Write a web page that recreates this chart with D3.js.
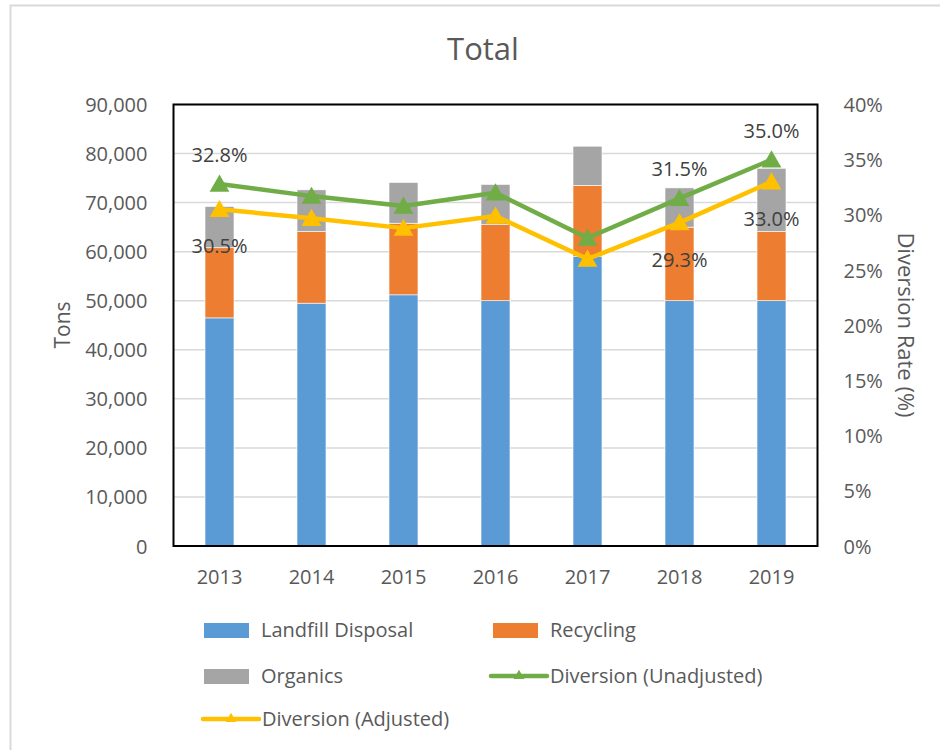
<!DOCTYPE html>
<html>
<head>
<meta charset="utf-8">
<script src="https://cdn.jsdelivr.net/npm/d3@7"></script>
<style>
  body { margin: 0; background: #fff; }
  text { font-family: 'Open Sans', sans-serif; }
</style>
</head>
<body>
<div id="chart"></div>
<script>
const years = ['2013', '2014', '2015', '2016', '2017', '2018', '2019']
const landfill = [46500, 49500, 51200, 50000, 59000, 50000, 50000]
const recycling = [14300, 14600, 14600, 15500, 14500, 15000, 14100]
const organics = [8400, 8500, 8300, 8200, 8000, 8000, 12900]
const unadjusted = [32.8, 31.7, 30.8, 32.0, 27.9, 31.5, 35.0]
const adjusted = [30.5, 29.7, 28.8, 29.9, 26.0, 29.3, 33.0]
const leftTicks = [0, 10000, 20000, 30000, 40000, 50000, 60000, 70000, 80000, 90000]
const rightTicks = [0, 5, 10, 15, 20, 25, 30, 35, 40]
// which points carry a data label
const labelled = ['2013', '2018', '2019']

const width = 940
const height = 750
const plot = { left: 173.5, right: 817.5, top: 104.5, bottom: 546 }

const colors = {
  landfill: '#5b9bd5',
  recycling: '#ed7d31',
  organics: '#a5a5a5',
  unadjusted: '#70ad47',
  adjusted: '#ffc000'
}

const svg = d3
  .select('#chart')
  .append('svg')
  .attr('width', width)
  .attr('height', height)

// chart area border (only left/top visible in the crop)
svg
  .append('rect')
  .attr('x', 10.5)
  .attr('y', 5.5)
  .attr('width', width + 20)
  .attr('height', height + 20)
  .attr('fill', '#fff')
  .attr('stroke', '#d9d9d9')
  .attr('stroke-width', 2)

svg
  .append('text')
  .attr('x', 483)
  .attr('y', 60)
  .attr('text-anchor', 'middle')
  .attr('font-size', 31)
  .attr('fill', '#595959')
  .text('Total')

const x = d3
  .scaleBand()
  .domain(years)
  .range([plot.left, plot.right])
  .paddingInner(0.685)
  .paddingOuter(0.3425)

const y = d3.scaleLinear().domain([0, 90000]).range([plot.bottom, plot.top])
const y2 = d3.scaleLinear().domain([0, 40]).range([plot.bottom, plot.top])

// gridlines
svg
  .append('g')
  .selectAll('line')
  .data(leftTicks)
  .join('line')
  .attr('x1', plot.left)
  .attr('x2', plot.right)
  .attr('y1', (d) => y(d))
  .attr('y2', (d) => y(d))
  .attr('stroke', '#d9d9d9')
  .attr('stroke-width', 1.5)

// stacked bars
const rows = years.map((yr, i) => ({
  year: yr,
  landfill: landfill[i],
  recycling: recycling[i],
  organics: organics[i]
}))
const stack = d3.stack().keys(['landfill', 'recycling', 'organics'])(rows)

svg
  .append('g')
  .selectAll('g')
  .data(stack)
  .join('g')
  .attr('fill', (s) => colors[s.key])
  .selectAll('rect')
  .data((s) => s)
  .join('rect')
  .attr('x', (d) => x(d.data.year))
  .attr('width', x.bandwidth())
  .attr('y', (d) => y(d[1]))
  .attr('height', (d) => y(d[0]) - y(d[1]))
  .attr('stroke', '#fff')
  .attr('stroke-width', 0.6)

// plot frame
svg
  .append('rect')
  .attr('x', plot.left)
  .attr('y', plot.top)
  .attr('width', plot.right - plot.left)
  .attr('height', plot.bottom - plot.top)
  .attr('fill', 'none')
  .attr('stroke', '#000')
  .attr('stroke-width', 2)

// axes
const leftAxis = svg
  .append('g')
  .attr('transform', `translate(${plot.left - 23},0)`)
  .call(
    d3
      .axisLeft(y)
      .tickValues(leftTicks)
      .tickSize(0)
      .tickFormat(d3.format(','))
  )
const rightAxis = svg
  .append('g')
  .attr('transform', `translate(${plot.right + 23},0)`)
  .call(
    d3
      .axisRight(y2)
      .tickValues(rightTicks)
      .tickSize(0)
      .tickFormat((d) => d + '%')
  )
const bottomAxis = svg
  .append('g')
  .attr('transform', `translate(0,${plot.bottom + 18})`)
  .call(d3.axisBottom(x).tickSize(0))

;[leftAxis, rightAxis, bottomAxis].forEach((g) => {
  g.select('.domain').remove()
  g.selectAll('text')
    .attr('font-family', "'Open Sans', sans-serif")
    .attr('font-size', 20)
    .attr('fill', '#595959')
})
leftAxis.selectAll('text').attr('dy', '0.35em')
rightAxis.selectAll('text').attr('dy', '0.35em')
bottomAxis.selectAll('text').attr('dy', '0.85em')

svg
  .append('text')
  .attr('transform', `translate(70,325) rotate(-90)`)
  .attr('text-anchor', 'middle')
  .attr('font-size', 21)
  .attr('fill', '#595959')
  .text('Tons')

svg
  .append('text')
  .attr('transform', `translate(898,325) rotate(90)`)
  .attr('text-anchor', 'middle')
  .attr('font-size', 22)
  .attr('fill', '#595959')
  .text('Diversion Rate (%)')

// diversion lines
const cx = (yr) => x(yr) + x.bandwidth() / 2
const line = d3
  .line()
  .x((d) => cx(d.year))
  .y((d) => y2(d.value))
const triangle = d3.symbol().type(d3.symbolTriangle).size(170)

const seriesList = [
  { key: 'adjusted', values: adjusted },
  { key: 'unadjusted', values: unadjusted }
]

seriesList.forEach((s) => {
  const pts = years.map((yr, i) => ({ year: yr, value: s.values[i] }))
  const g = svg.append('g')
  g.append('path')
    .attr('d', line(pts))
    .attr('fill', 'none')
    .attr('stroke', colors[s.key])
    .attr('stroke-width', 4.5)
    .attr('stroke-linejoin', 'round')
  g.selectAll('path.marker')
    .data(pts)
    .join('path')
    .attr('class', 'marker')
    .attr('d', triangle)
    .attr('transform', (d) => `translate(${cx(d.year)},${y2(d.value) + 2})`)
    .attr('fill', colors[s.key])
})

// data labels: unadjusted above, adjusted below
const labelRows = [
  { values: unadjusted, dy: -22 },
  { values: adjusted, dy: 44 }
]
labelRows.forEach((r) => {
  svg
    .append('g')
    .selectAll('text')
    .data(years.map((yr, i) => ({ year: yr, value: r.values[i] })).filter((d) => labelled.includes(d.year)))
    .join('text')
    .attr('x', (d) => cx(d.year))
    .attr('y', (d) => y2(d.value) + r.dy)
    .attr('text-anchor', 'middle')
    .attr('font-size', 20)
    .attr('fill', '#404040')
    .text((d) => d.value.toFixed(1) + '%')
})

// legend
const legendItems = [
  { label: 'Landfill Disposal', key: 'landfill', type: 'box', x: 204, y: 630 },
  { label: 'Recycling', key: 'recycling', type: 'box', x: 493, y: 630 },
  { label: 'Organics', key: 'organics', type: 'box', x: 204, y: 676 },
  { label: 'Diversion (Unadjusted)', key: 'unadjusted', type: 'line', x: 490, y: 676 },
  { label: 'Diversion (Adjusted)', key: 'adjusted', type: 'line', x: 202, y: 719 }
]
const lg = svg.append('g')
legendItems.forEach((it) => {
  const g = lg.append('g').attr('transform', `translate(${it.x},${it.y})`)
  if (it.type === 'box') {
    g.append('rect')
      .attr('x', 0)
      .attr('y', -7)
      .attr('width', 45)
      .attr('height', 15)
      .attr('fill', colors[it.key])
  } else {
    g.append('line')
      .attr('x1', 1)
      .attr('x2', 57)
      .attr('stroke', colors[it.key])
      .attr('stroke-width', 4.5)
      .attr('stroke-linecap', 'round')
    g.append('path')
      .attr('d', d3.symbol().type(d3.symbolTriangle).size(50)())
      .attr('transform', 'translate(29,0)')
      .attr('fill', colors[it.key])
  }
  g.append('text')
    .attr('x', it.type === 'box' ? 57 : 60)
    .attr('y', 0)
    .attr('dy', '0.35em')
    .attr('font-size', 20)
    .attr('fill', '#595959')
    .text(it.label)
})
</script>
</body>
</html>
